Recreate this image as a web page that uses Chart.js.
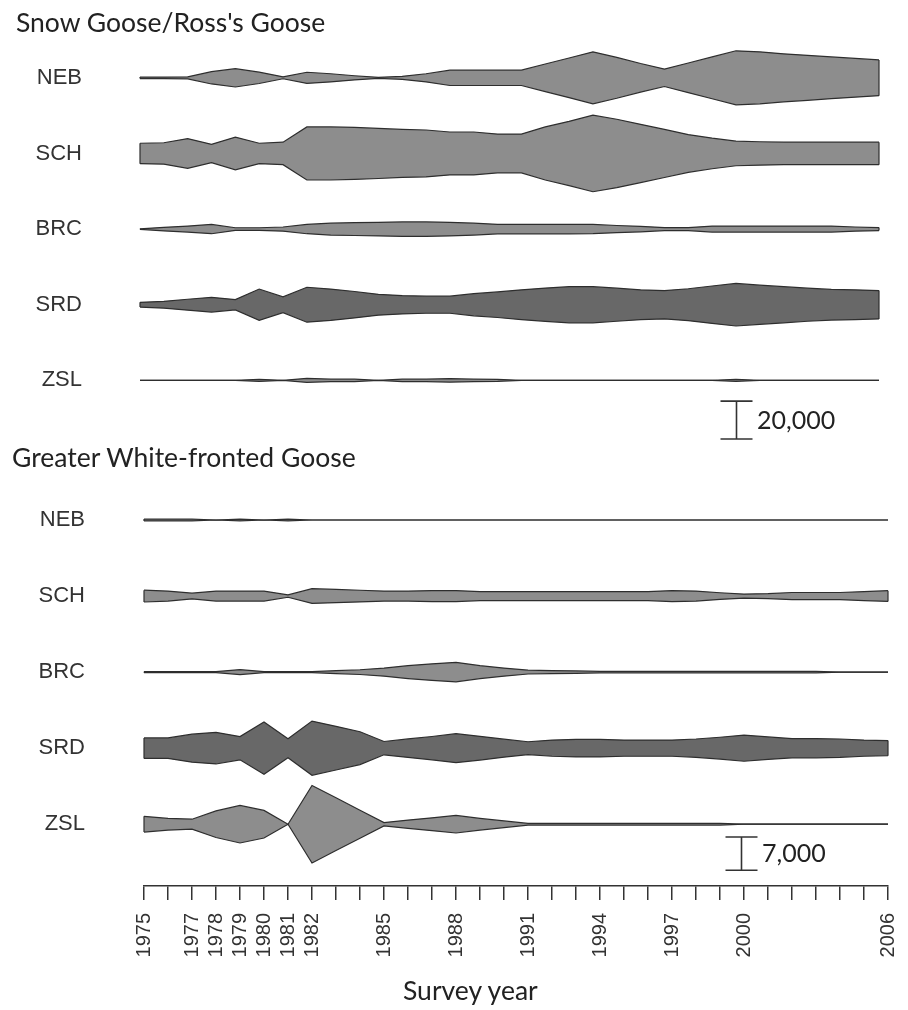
<!DOCTYPE html>
<html><head><meta charset="utf-8">
<script src="https://cdn.jsdelivr.net/npm/chart.js@4.4.1/dist/chart.umd.min.js"></script>
<style>
html,body{margin:0;padding:0;background:#fff;}
body{width:908px;height:1010px;position:relative;overflow:hidden;}
.t{position:absolute;font-family:Lato,"Open Sans",sans-serif;color:#222;white-space:nowrap;}
.big{font-size:26.5px;line-height:26.5px;}
.num{font-size:25px;line-height:25px;}
canvas{position:absolute;left:0;}
</style></head><body>
<canvas id="c1" width="908" height="456" style="top:0px"></canvas>
<canvas id="c2" width="908" height="526" style="top:450px"></canvas>
<div class="t big" style="left:16px;top:8.5px;">Snow Goose/Ross's Goose</div>
<div class="t big" style="left:12px;top:443.5px;">Greater White-fronted Goose</div>
<div class="t num" style="left:757px;top:407px;">20,000</div>
<div class="t num" style="left:762px;top:840px;">7,000</div>
<div class="t big" style="left:403px;top:976.5px;">Survey year</div>
<script>
// ---- data (bird counts per survey year) ----
const YEARS = [1975,1976,1977,1978,1979,1980,1981,1982,1983,1984,1985,1986,1987,1988,1989,1990,
               1991,1992,1993,1994,1995,1996,1997,1998,1999,2000,2001,2002,2003,2004,2005,2006];
const TICK_YEARS = [1975,1977,1978,1979,1980,1981,1982,1985,1988,1991,1994,1997,2000,2006];
const ROWS = ['NEB','SCH','BRC','SRD','ZSL'];

// Snow Goose / Ross's Goose
const SG_NEB = [800,800,1100,6500,9700,6000,1000,5900,4300,2200,500,1600,4300,8100,8100,8100,
                8100,14600,21000,27500,21600,15100,9200,15700,22100,28600,27500,25400,23800,22100,20500,18900];
const SG_SCH = [10800,11300,15700,9700,17300,10800,11900,28100,28100,27500,26500,25400,24800,22700,22700,20500,
                20500,28100,34000,40500,36200,30800,25400,20000,16200,13000,12400,11900,11900,11900,11900,11900];
const SG_BRC = [300,1900,3200,4900,1400,1400,2200,4900,6300,6800,7200,7600,7600,7200,6300,5000,
                5000,5000,5000,4900,3800,2900,1600,1600,3200,3200,3200,3200,3200,3200,2200,1600];
const SG_SRD = [2500,3600,5800,7800,5400,16600,8300,18500,16600,14000,11000,9700,9000,9000,11700,13500,
                15800,17600,19100,19100,17500,15800,15000,16900,19800,22500,20700,19100,17500,16200,15800,15000];
const SG_ZSL = [0,0,0,0,0,1100,0,2200,1300,1300,0,1300,1300,1900,1300,1000,
                0,0,0,0,0,0,0,0,0,1100,0,0,0,0,0,0];

// Greater White-fronted Goose
const GW_NEB = [400,400,400,0,400,0,400,0,0,0,0,0,0,0,0,0,
                0,0,0,0,0,0,0,0,0,0,0,0,0,0,0,0];
const GW_SCH = [2500,2100,1200,2100,2100,2100,500,3100,2800,2450,2100,2100,2300,2300,1900,1900,
                1900,1900,1900,1900,1900,1900,2300,2100,1400,850,1050,1500,1500,1500,1900,2250];
const GW_BRC = [200,200,200,200,1050,200,200,200,600,1000,1700,2700,3500,4100,2700,1700,
                800,600,500,300,300,300,300,300,300,300,300,300,300,0,0,0];
const GW_SRD = [4300,4300,5900,6650,4900,11000,4000,11400,9200,6900,2800,3900,4900,6100,5000,3800,
                2700,3400,3700,3700,3400,3400,3400,3850,4600,5500,4750,4050,4050,3850,3400,3200];
const GW_ZSL = [3300,2450,2100,5600,7900,5800,0,16300,11100,5900,700,1750,2700,3700,2450,1400,
                350,350,350,350,350,350,350,350,350,0,0,0,0,0,0,0];

const SG_SERIES = [SG_NEB, SG_SCH, SG_BRC, SG_SRD, SG_ZSL];
const GW_SERIES = [GW_NEB, GW_SCH, GW_BRC, GW_SRD, GW_ZSL];
const SG_SCALE = 20000, GW_SCALE = 7000;

// ---- styling ----
const LIGHT = '#8d8d8d', DARK = '#686868', EDGE = '#2e2e2e';

function buildDatasets(series, gap){
  const ds = [];
  series.forEach((vals, r) => {
    const c = -r * gap;
    const fillCol = ROWS[r] === 'SRD' ? DARK : LIGHT;
    ds.push({data: YEARS.map((y,i)=>({x:y, y:c + vals[i]/2})), borderColor:EDGE, borderWidth:1.2,
             pointRadius:0, fill:false, tension:0});
    ds.push({data: YEARS.map((y,i)=>({x:y, y:c - vals[i]/2})), borderColor:EDGE, borderWidth:1.2,
             pointRadius:0, fill:'-1', backgroundColor:fillCol, tension:0});
  });
  return ds;
}

const endCaps = {
  id:'endCaps',
  afterDatasetsDraw(chart){
    const {ctx, scales:{x, y}} = chart;
    const ds = chart.data.datasets;
    ctx.save();
    ctx.strokeStyle = EDGE; ctx.lineWidth = 1.2;
    for (let k = 0; k < ds.length; k += 2){
      const up = ds[k].data, lo = ds[k+1].data;
      [0, up.length-1].forEach(i => {
        const px = x.getPixelForValue(up[i].x);
        ctx.beginPath();
        ctx.moveTo(px, y.getPixelForValue(up[i].y));
        ctx.lineTo(px, y.getPixelForValue(lo[i].y));
        ctx.stroke();
      });
    }
    ctx.restore();
  }
};

function scaleBar(year, top, len){
  return {
    id:'scaleBar',
    afterDraw(chart){
      const {ctx, scales:{x, y}} = chart;
      const px = Math.round(x.getPixelForValue(year)) + 0.5;
      const y0 = y.getPixelForValue(top), y1 = y.getPixelForValue(top - len);
      ctx.save();
      ctx.strokeStyle = '#333'; ctx.lineWidth = 1.6;
      ctx.beginPath();
      ctx.moveTo(px, y0); ctx.lineTo(px, y1);
      ctx.moveTo(px-16, y0); ctx.lineTo(px+16, y0);
      ctx.moveTo(px-16, y1); ctx.lineTo(px+16, y1);
      ctx.stroke();
      ctx.restore();
    }
  };
}

function yAxis(gap, width, pad, ymin, ymax){
  return {
    type:'linear', min:ymin, max:ymax,
    afterBuildTicks(s){ s.ticks = ROWS.map((r,i)=>({value:-i*gap})); },
    afterFit(s){ s.width = width; s.paddingTop = 0; s.paddingBottom = 0; },
    grid:{display:false, drawTicks:false}, border:{display:false},
    ticks:{padding:pad, color:'#333', font:{family:'Liberation Sans', size:22},
           callback:(v)=>ROWS[Math.round(-v/gap)]}
  };
}

const SG_GAP = 40000, GW_GAP = 16000;

new Chart(document.getElementById('c1'), {
  type:'line',
  data:{datasets: buildDatasets(SG_SERIES, SG_GAP)},
  options:{
    responsive:false, animation:false, events:[],
    layout:{padding:{top:40, right:29, bottom:0, left:0}},
    plugins:{legend:{display:false}, tooltip:{enabled:false}},
    scales:{
      x:{type:'linear', min:1975, max:2006, display:false},
      y:yAxis(SG_GAP, 140, 58, -200000, 20000)
    }
  },
  plugins:[endCaps, scaleBar(2000, -171000, SG_SCALE)]
});

new Chart(document.getElementById('c2'), {
  type:'line',
  data:{datasets: buildDatasets(GW_SERIES, GW_GAP)},
  options:{
    responsive:false, animation:false, events:[],
    layout:{padding:{top:32, right:20, bottom:0, left:0}},
    plugins:{legend:{display:false}, tooltip:{enabled:false}},
    scales:{
      x:{type:'linear', min:1975, max:2006, position:'bottom',
         afterBuildTicks(s){ s.ticks = YEARS.map(v=>({value:v})); },
         afterFit(s){ s.height = 90; s.paddingLeft = 0; s.paddingRight = 0; },
         grid:{drawOnChartArea:false, drawTicks:true, tickLength:14, color:'#333', lineWidth:1.5},
         border:{display:true, color:'#333', width:1.5},
         ticks:{autoSkip:false, minRotation:90, maxRotation:90, padding:13, color:'#333',
                font:{family:'Liberation Sans', size:20},
                callback:(v)=>TICK_YEARS.includes(v) ? String(v) : ''}
      },
      y:yAxis(GW_GAP, 144, 59, -77000, 8000)
    }
  },
  plugins:[endCaps, scaleBar(1999.87, -66700, GW_SCALE)]
});
</script>
</body></html>
